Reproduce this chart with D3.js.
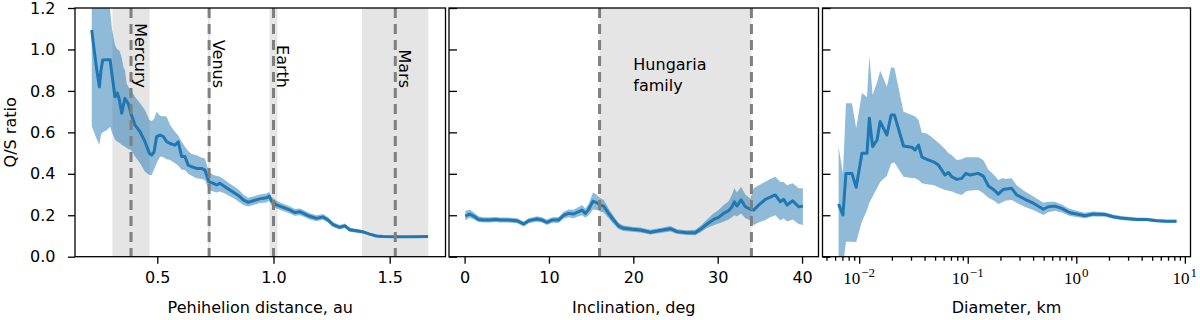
<!DOCTYPE html>
<html><head><meta charset="utf-8">
<script src="https://cdn.jsdelivr.net/npm/d3@7"></script>
<style>
html,body{margin:0;padding:0;background:#fff;}
svg{display:block;font-family:"DejaVu Sans",sans-serif;}
</style></head>
<body><svg id="c" width="1200" height="320"></svg>
<script>
// ---------- data ----------
// Panel 1: perihelion distance (au)
const qAU  = [0.218,0.228,0.240,0.251,0.258,0.265,0.283,0.297,0.305,0.318,0.328,0.337,0.347,0.354,0.361,0.368,0.375,0.387,0.404,0.426,0.447,0.466,0.476,0.486,0.497,0.512,0.526,0.540,0.555,0.576,0.590,0.605,0.619,0.633,0.648,0.669,0.691,0.705,0.722,0.741,0.755,0.769,0.791,0.812,0.834,0.855,0.870,0.891,0.913,0.941,0.970,0.981,0.992,1.013,1.041,1.070,1.092,1.113,1.135,1.156,1.185,1.213,1.235,1.256,1.285,1.307,1.328,1.357,1.385,1.414,1.443,1.471,1.529,1.600,1.665];
const qMid = [1.094,1.00,0.90,0.82,0.90,0.949,0.95,0.95,0.88,0.772,0.79,0.756,0.692,0.73,0.764,0.75,0.74,0.69,0.635,0.603,0.555,0.499,0.49,0.505,0.579,0.587,0.58,0.555,0.546,0.538,0.554,0.483,0.483,0.442,0.434,0.426,0.426,0.418,0.362,0.354,0.346,0.354,0.338,0.322,0.306,0.29,0.274,0.262,0.27,0.279,0.284,0.292,0.268,0.25,0.238,0.226,0.213,0.217,0.206,0.195,0.185,0.192,0.177,0.155,0.142,0.149,0.13,0.125,0.12,0.109,0.10,0.097,0.096,0.096,0.097];
const qLo  = [0.63,0.60,0.565,0.54,0.59,0.60,0.61,0.627,0.60,0.565,0.555,0.55,0.54,0.535,0.531,0.525,0.52,0.515,0.483,0.451,0.41,0.394,0.394,0.42,0.451,0.483,0.48,0.47,0.467,0.451,0.44,0.42,0.418,0.40,0.39,0.378,0.375,0.37,0.322,0.314,0.31,0.315,0.305,0.292,0.278,0.262,0.25,0.242,0.25,0.259,0.262,0.27,0.248,0.232,0.22,0.208,0.197,0.20,0.19,0.18,0.171,0.178,0.164,0.143,0.131,0.138,0.12,0.116,0.112,0.102,0.094,0.092,0.092,0.092,0.093];
const qHi  = [1.35,1.35,1.30,1.25,1.30,1.35,1.30,1.19,1.10,1.02,1.00,0.995,0.96,0.917,0.90,0.837,0.82,0.804,0.772,0.74,0.708,0.66,0.655,0.665,0.70,0.68,0.678,0.676,0.636,0.603,0.585,0.555,0.531,0.51,0.495,0.49,0.478,0.474,0.41,0.394,0.39,0.386,0.37,0.352,0.336,0.318,0.30,0.285,0.29,0.30,0.305,0.312,0.288,0.27,0.256,0.244,0.23,0.233,0.222,0.21,0.20,0.206,0.19,0.167,0.153,0.16,0.14,0.134,0.128,0.116,0.106,0.102,0.10,0.10,0.101];
// planets: name, position, perihelion-aphelion span
const planetNames = ["Mercury","Venus","Earth","Mars"];
const planetA     = [0.387,0.723,1.0,1.524];
const planetQmin  = [0.307,0.718,0.983,1.381];
const planetQmax  = [0.467,0.728,1.017,1.666];

// Panel 2: inclination (deg)
const incDeg = [0.08,0.6,1.07,1.66,2.25,3.05,3.64,4.23,5.02,6.2,7.0,7.6,8.58,9.17,9.77,10.36,11.15,11.74,12.33,12.92,13.52,13.92,14.31,14.7,15.22,15.7,16.09,16.48,17.07,17.66,18.26,18.85,19.84,20.83,22.0,23.2,24.39,25.18,26.37,27.35,27.94,28.74,29.52,30.11,30.7,31.3,31.7,31.97,32.29,32.77,33.28,33.87,34.26,34.86,35.65,36.24,36.83,37.43,37.82,38.22,38.89,39.6,40.1];
const incMid = [0.196,0.206,0.196,0.18,0.177,0.177,0.18,0.177,0.177,0.174,0.158,0.174,0.182,0.177,0.166,0.177,0.177,0.2,0.209,0.206,0.217,0.225,0.209,0.228,0.268,0.26,0.249,0.244,0.209,0.177,0.148,0.137,0.132,0.129,0.118,0.126,0.135,0.121,0.116,0.116,0.132,0.158,0.18,0.19,0.209,0.222,0.241,0.265,0.245,0.274,0.241,0.229,0.225,0.249,0.277,0.287,0.298,0.265,0.277,0.249,0.27,0.241,0.244];
const incLo  = [0.175,0.188,0.18,0.167,0.165,0.165,0.168,0.165,0.165,0.162,0.146,0.162,0.169,0.165,0.153,0.164,0.163,0.183,0.19,0.186,0.195,0.2,0.188,0.2,0.228,0.225,0.218,0.215,0.185,0.158,0.133,0.124,0.12,0.117,0.107,0.114,0.122,0.11,0.105,0.104,0.117,0.138,0.152,0.16,0.169,0.18,0.19,0.2,0.195,0.209,0.185,0.175,0.153,0.165,0.177,0.19,0.2,0.175,0.185,0.17,0.18,0.158,0.153];
const incHi  = [0.22,0.228,0.215,0.195,0.19,0.19,0.192,0.189,0.189,0.186,0.17,0.186,0.195,0.19,0.179,0.19,0.191,0.217,0.228,0.226,0.24,0.25,0.232,0.256,0.31,0.298,0.282,0.274,0.233,0.196,0.163,0.15,0.145,0.141,0.13,0.138,0.148,0.133,0.128,0.13,0.148,0.18,0.21,0.225,0.25,0.268,0.30,0.33,0.31,0.338,0.30,0.28,0.33,0.345,0.362,0.375,0.386,0.36,0.36,0.345,0.354,0.33,0.33];
const hungaria = [16, 34];

// Panel 3: diameter (km)
const diamKm  = [0.00646,0.00708,0.00755,0.00857,0.00938,0.0106,0.0118,0.0124,0.0133,0.0146,0.0156,0.018,0.0197,0.0211,0.0256,0.0305,0.0328,0.0352,0.0378,0.042,0.0483,0.0537,0.0618,0.0664,0.0713,0.0793,0.0881,0.0959,0.105,0.125,0.139,0.155,0.175,0.191,0.213,0.22,0.254,0.282,0.337,0.402,0.497,0.552,0.635,0.733,0.873,1.007,1.2,1.43,1.83,2.19,2.7,3.59,4.44,5.48,6.78,8.38];
const diamMid = [0.254,0.201,0.402,0.402,0.335,0.499,0.499,0.668,0.531,0.563,0.652,0.587,0.684,0.684,0.534,0.528,0.515,0.539,0.48,0.47,0.458,0.442,0.394,0.406,0.386,0.373,0.378,0.402,0.394,0.402,0.389,0.341,0.322,0.302,0.325,0.325,0.33,0.298,0.277,0.258,0.229,0.241,0.244,0.233,0.212,0.206,0.198,0.206,0.204,0.193,0.185,0.18,0.18,0.174,0.171,0.171];
const diamLo  = [-0.1,-0.05,0.072,0.072,0.07,0.17,0.225,0.26,0.29,0.33,0.36,0.39,0.45,0.455,0.386,0.38,0.378,0.37,0.354,0.35,0.346,0.335,0.322,0.318,0.314,0.305,0.298,0.314,0.32,0.322,0.306,0.285,0.27,0.254,0.265,0.27,0.273,0.26,0.24,0.225,0.201,0.215,0.222,0.213,0.196,0.192,0.186,0.194,0.193,0.183,0.176,0.172,0.172,0.167,0.164,0.164];
const diamHi  = [0.531,0.40,0.74,0.74,0.62,0.79,0.77,0.97,0.78,0.84,0.897,0.82,0.914,0.91,0.70,0.684,0.676,0.66,0.598,0.595,0.57,0.55,0.52,0.50,0.49,0.467,0.47,0.48,0.48,0.48,0.467,0.42,0.394,0.37,0.38,0.375,0.378,0.345,0.315,0.29,0.26,0.265,0.265,0.252,0.23,0.222,0.212,0.218,0.215,0.203,0.195,0.189,0.188,0.182,0.178,0.178];

const yTicks = [0.0,0.2,0.4,0.6,0.8,1.0,1.2];
const q_ticks = [0.5,1.0,1.5];
const incTicks = [0,10,20,30,40];
const diamMajor = [0.01,0.1,1,10];
const diamLabels = ["\u22122","\u22121","0","1"];

// ---------- layout ----------
const svg = d3.select("#c");
const TOP = 8, BOT = 256.7;
const BLUE = "#1f77b4", GRAY = "#7f7f7f", SHADE = "#e5e5e5";
const FS = 16;

const y = d3.scaleLinear().domain([0,1.2]).range([BOT, TOP]);
const x1 = d3.scaleLinear().domain([0.146,1.74]).range([75,445.5]);
const x2 = d3.scaleLinear().domain([-1.85,41.95]).range([449,818.5]);
const x3 = d3.scaleLog().domain([Math.pow(10,-2.338),Math.pow(10,1.052)]).range([822.5,1190.5]);

function panel(id, x) {
  const [l, r] = x.range();
  svg.append("clipPath").attr("id", id).append("rect")
    .attr("x", l).attr("y", TOP).attr("width", r - l).attr("height", BOT - TOP);
  return svg.append("g").attr("clip-path", `url(#${id})`);
}
function drawSeries(g, x, xs, mid, lo, hi) {
  const idx = d3.range(xs.length);
  g.append("path").datum(idx)
    .attr("d", d3.area().x(i => x(xs[i])).y0(i => y(lo[i])).y1(i => y(hi[i])))
    .attr("fill", BLUE).attr("fill-opacity", 0.5).attr("stroke", "none");
  g.append("path").datum(idx)
    .attr("d", d3.line().x(i => x(xs[i])).y(i => y(mid[i])))
    .attr("fill", "none").attr("stroke", BLUE).attr("stroke-width", 3)
    .attr("stroke-linejoin", "round");
}
function vdash(g, xpos) {
  g.append("line").attr("x1", xpos).attr("x2", xpos).attr("y1", TOP).attr("y2", BOT)
    .attr("stroke", GRAY).attr("stroke-width", 3).attr("stroke-dasharray", "10,6");
}
function frame(x) {
  const [l, r] = x.range();
  svg.append("rect").attr("x", l).attr("y", TOP).attr("width", r - l).attr("height", BOT - TOP)
    .attr("fill", "none").attr("stroke", "#000").attr("stroke-width", 1.3);
}
function styleAxis(g) {
  g.select(".domain").remove();
  g.selectAll(".tick line").attr("stroke", "#000").attr("stroke-width", 1.3);
  g.selectAll(".tick text").attr("font-family", "DejaVu Sans").attr("font-size", FS).attr("fill", "#000");
}

// ----- panel 1 -----
const g1 = panel("cp1", x1);
planetQmin.forEach((d, i) => {
  g1.append("rect").attr("x", x1(d)).attr("y", TOP).attr("width", x1(planetQmax[i]) - x1(d))
    .attr("height", BOT - TOP).attr("fill", SHADE);
});
drawSeries(g1, x1, qAU, qMid, qLo, qHi);
planetA.forEach(a => vdash(g1, x1(a)));
planetNames.forEach((n, i) => {
  const px = x1(planetA[i]) + 4;
  svg.append("text").text(n).attr("transform", `translate(${px},88) rotate(90)`)
    .attr("text-anchor", "end").attr("font-size", FS).attr("fill", "#000");
});
frame(x1);
styleAxis(svg.append("g").attr("transform", `translate(75,0)`)
  .call(d3.axisLeft(y).tickValues(yTicks).tickFormat(d3.format(".1f")).tickSize(7).tickPadding(12.5)));
styleAxis(svg.append("g").attr("transform", `translate(0,${BOT})`)
  .call(d3.axisBottom(x1).tickValues(q_ticks).tickFormat(d3.format(".1f")).tickSize(7).tickPadding(8)));
svg.append("text").text("Q/S ratio").attr("transform", `translate(16,${(TOP+BOT)/2}) rotate(-90)`)
  .attr("text-anchor", "middle").attr("font-size", FS);
svg.append("text").text("Pehihelion distance, au").attr("x", d3.mean(x1.range())).attr("y", 313)
  .attr("text-anchor", "middle").attr("font-size", FS);

// ----- panel 2 -----
const g2 = panel("cp2", x2);
g2.append("rect").attr("x", x2(hungaria[0])).attr("y", TOP).attr("width", x2(hungaria[1]) - x2(hungaria[0]))
  .attr("height", BOT - TOP).attr("fill", SHADE);
drawSeries(g2, x2, incDeg, incMid, incLo, incHi);
hungaria.forEach(h => vdash(g2, x2(h)));
const ht = svg.append("text").attr("x", x2(20)).attr("y", 70).attr("font-size", FS);
ht.append("tspan").attr("x", x2(20)).text("Hungaria");
ht.append("tspan").attr("x", x2(20)).attr("dy", 21).text("family");
frame(x2);
styleAxis(svg.append("g").attr("transform", `translate(449,0)`)
  .call(d3.axisRight(y).tickValues(yTicks).tickFormat("").tickSize(8)));
styleAxis(svg.append("g").attr("transform", `translate(0,${BOT})`)
  .call(d3.axisBottom(x2).tickValues(incTicks).tickFormat(d3.format("d")).tickSize(7).tickPadding(8)));
svg.append("text").text("Inclination, deg").attr("x", d3.mean(x2.range())).attr("y", 313)
  .attr("text-anchor", "middle").attr("font-size", FS);

// ----- panel 3 -----
const g3 = panel("cp3", x3);
drawSeries(g3, x3, diamKm, diamMid, diamLo, diamHi);
frame(x3);
styleAxis(svg.append("g").attr("transform", `translate(822.5,0)`)
  .call(d3.axisRight(y).tickValues(yTicks).tickFormat("").tickSize(8)));
const [d0, d1] = x3.domain();
const minor = [];
for (let e = -3; e <= 1; e++) for (let m = 2; m <= 9; m++) {
  const v = m * Math.pow(10, e);
  if (v >= d0 && v <= d1) minor.push(v);
}
styleAxis(svg.append("g").attr("transform", `translate(0,${BOT})`)
  .call(d3.axisBottom(x3).tickValues(minor).tickFormat("").tickSize(4)));
styleAxis(svg.append("g").attr("transform", `translate(0,${BOT})`)
  .call(d3.axisBottom(x3).tickValues(diamMajor).tickFormat("").tickSize(7)));
diamMajor.forEach((v, i) => {
  const t = svg.append("text").attr("x", x3(v)).attr("y", 283.5).attr("text-anchor", "middle")
    .attr("font-family", "Liberation Serif").attr("font-size", 17);
  t.append("tspan").text("10");
  t.append("tspan").attr("dy", -7).attr("dx", 1).attr("font-size", 13).text(diamLabels[i]);
});
svg.append("text").text("Diameter, km").attr("x", d3.mean(x3.range())).attr("y", 313)
  .attr("text-anchor", "middle").attr("font-size", FS);
</script></body></html>
